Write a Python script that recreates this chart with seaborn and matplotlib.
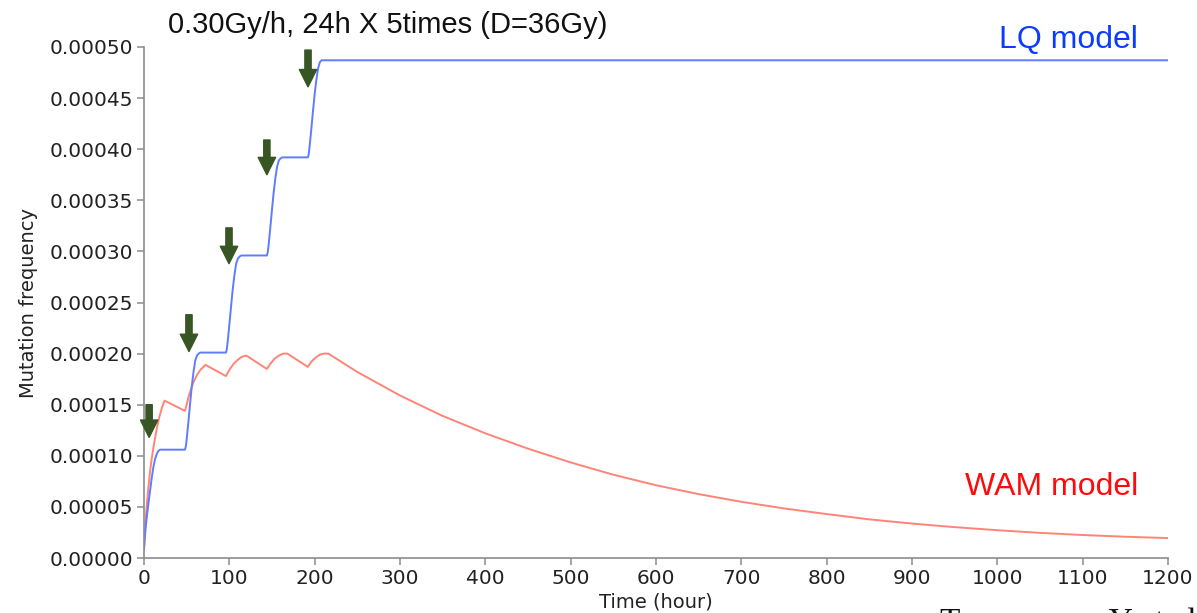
import numpy as np
import pandas as pd
import matplotlib
matplotlib.use("Agg")
import matplotlib.pyplot as plt
import seaborn as sns

# ---- data ----
lq_time = [0, 1, 2, 3, 5, 7, 9, 11, 13, 15, 17, 19, 48,
           48, 49, 50, 52, 54, 56, 58, 60, 62, 64, 66, 96,
           97, 98, 100, 102, 104, 106, 108, 110, 112, 114, 144,
           145, 146, 148, 150, 152, 154, 156, 158, 160, 162, 192,
           193, 194, 196, 198, 200, 202, 204, 206, 208, 210, 1200]
lq_value = [0.000008, 0.000020, 0.000030, 0.000038, 0.000052, 0.000065, 0.000078, 0.000089,
            0.000097, 0.000102, 0.000105, 0.000106, 0.000106,
            0.000106, 0.000109, 0.000116, 0.000133, 0.000151, 0.000168, 0.000182, 0.000193,
            0.000198, 0.000200, 0.000201, 0.000201,
            0.000204, 0.000211, 0.000228, 0.000246, 0.000263, 0.000277, 0.000288, 0.000293,
            0.000295, 0.000296, 0.000296,
            0.000299, 0.000306, 0.000323, 0.000341, 0.000358, 0.000372, 0.000383, 0.000389,
            0.000391, 0.000392, 0.000392,
            0.000395, 0.000402, 0.000419, 0.000437, 0.000454, 0.000468, 0.000479, 0.000485,
            0.000487, 0.000487, 0.000487]

wam_time = [0, 1, 2, 3, 5, 7, 9, 12, 15, 18, 21, 24,
            48, 50, 52, 55, 58, 62, 66, 72,
            96, 100, 105, 110, 115, 120,
            144, 148, 153, 158, 163, 168,
            192, 196, 201, 206, 211, 216,
            250, 300, 350, 400, 450, 500, 550, 600, 650, 700, 750, 800,
            850, 900, 950, 1000, 1050, 1100, 1150, 1200]
wam_value = [0.000010, 0.000025, 0.000038, 0.000049, 0.000068, 0.000084, 0.000097, 0.000113,
             0.000127, 0.000138, 0.000147, 0.000154,
             0.000144, 0.000150, 0.000157, 0.000165, 0.000172, 0.000179, 0.000184, 0.000189,
             0.000178, 0.000184, 0.000190, 0.000194, 0.000197, 0.000198,
             0.000185, 0.000190, 0.000195, 0.000198, 0.000200, 0.000200,
             0.000187, 0.000192, 0.000196, 0.000199, 0.000200, 0.000200,
             0.000182, 0.000159, 0.000139, 0.000122, 0.000107, 0.0000935, 0.0000815, 0.0000712,
             0.0000625, 0.0000550, 0.0000485, 0.0000430,
             0.0000378, 0.0000337, 0.0000302, 0.0000272, 0.0000246, 0.0000225, 0.0000208, 0.0000195]

arrow_time = [6, 52.7, 99.6, 144, 192.2]
arrow_tip = [0.000118, 0.000202, 0.000288, 0.000375, 0.000461]
arrow_top = [0.000150, 0.000238, 0.000323, 0.000409, 0.000497]

x_ticks = list(range(0, 1201, 100))
y_ticks = [0.0, 0.00005, 0.0001, 0.00015, 0.0002, 0.00025, 0.0003, 0.00035, 0.0004, 0.00045, 0.0005]

title_text = "0.30Gy/h, 24h X 5times (D=36Gy)"
lq_label = "LQ model"
wam_label = "WAM model"
credit_text = "Tsunoyama, Y et al."

# ---- plotting ----
sns.set_style("ticks")
plt.rcParams["font.family"] = ["DejaVu Sans"]

fig = plt.figure(figsize=(11.97, 6.13), dpi=100)
ax = fig.add_axes([144 / 1197, 1 - 558 / 613, (1168 - 144) / 1197, (558 - 47) / 613])

lq_df = pd.DataFrame({"time": lq_time, "value": lq_value})
wam_df = pd.DataFrame({"time": wam_time, "value": wam_value})

sns.lineplot(data=wam_df, x="time", y="value", ax=ax, color="#ff8478", linewidth=1.4,
             estimator=None, sort=False)
sns.lineplot(data=lq_df, x="time", y="value", ax=ax, color="#5f7bff", linewidth=1.4,
             estimator=None, sort=False)

arrow_color = "#375623"
for t, tip, top in zip(arrow_time, arrow_tip, arrow_top):
    ax.annotate("", xy=(t, tip), xytext=(t, top),
                arrowprops=dict(arrowstyle="simple,head_width=1.25,head_length=1.25,tail_width=0.45",
                                color=arrow_color, mutation_scale=10, shrinkA=0, shrinkB=0))

ax.set_xlim(0, 1200)
ax.set_ylim(0, 0.0005)
ax.set_xticks(x_ticks)
ax.set_yticks(y_ticks)
ax.set_yticklabels([f"{v:.5f}" for v in y_ticks])
ax.set_xticklabels([str(v) for v in x_ticks])

for side in ["top", "right"]:
    ax.spines[side].set_visible(False)
for side in ["left", "bottom"]:
    ax.spines[side].set_color("#8c8c8c")
    ax.spines[side].set_linewidth(1.2)
ax.tick_params(axis="both", direction="out", length=5, width=1.1, color="#8c8c8c",
               labelsize=14.5, labelcolor="#222222", pad=3)

ax.set_xlabel("Time (hour)", fontsize=14, color="#222222", labelpad=3)
ax.set_ylabel("Mutation frequency", fontsize=14, color="#222222", labelpad=8)

fig.text(168 / 1197, 1 - 25 / 613, title_text, fontsize=21, family=["Liberation Sans"],
         color="#111111", va="center", ha="left")
fig.text(1138 / 1197, 1 - 40 / 613, lq_label, fontsize=23, family=["Liberation Sans"],
         color="#0a3cff", va="center", ha="right")
fig.text(1138 / 1197, 1 - 487 / 613, wam_label, fontsize=23, family=["Liberation Sans"],
         color="#ff0a0a", va="center", ha="right")
fig.text(940 / 1197, 1 - 631 / 613, credit_text, fontsize=24, family=["Liberation Serif"],
         color="#111111", va="baseline", ha="left")

fig.savefig("out.png", dpi=100)
